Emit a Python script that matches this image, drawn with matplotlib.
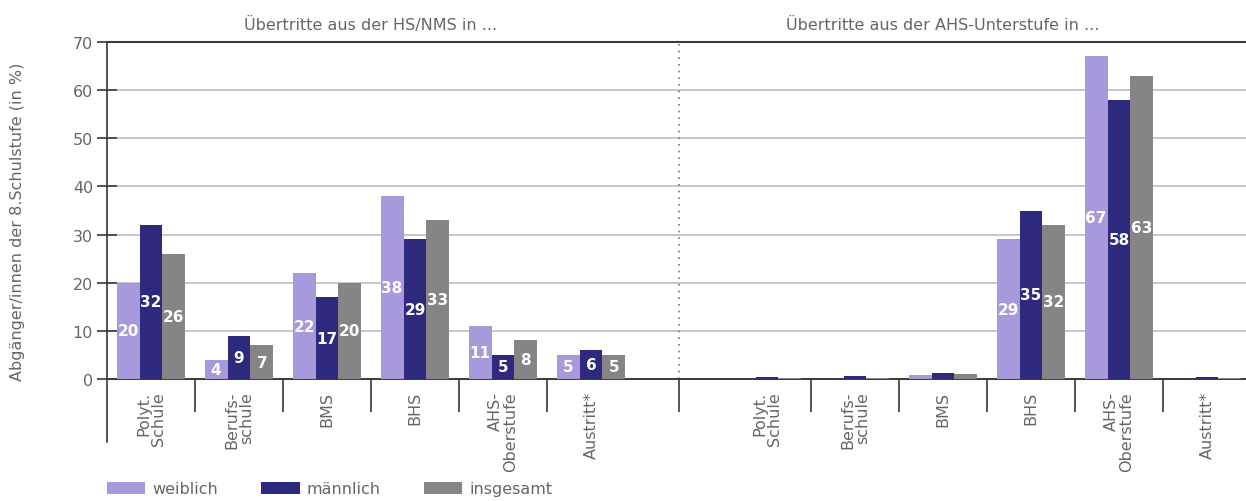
import numpy as np
import matplotlib
matplotlib.use("Agg")
import matplotlib.pyplot as plt
from matplotlib.patches import Patch

plt.rcParams["font.family"] = ["DejaVu Sans"]

# Categories of the two transfer groups
categories = ["Polyt.\nSchule", "Berufs-\nschule", "BMS", "BHS", "AHS-\nOberstufe", "Austritt*"]
group_titles = ["Übertritte aus der HS/NMS in ...", "Übertritte aus der AHS-Unterstufe in ..."]
series_names = ["weiblich", "männlich", "insgesamt"]

# Transfers from HS/NMS (percent)
hs_weiblich = [20, 4, 22, 38, 11, 5]
hs_maennlich = [32, 9, 17, 29, 5, 6]
hs_insgesamt = [26, 7, 20, 33, 8, 5]

# Transfers from AHS-Unterstufe (percent)
ahs_weiblich = [0.1, 0.1, 0.8, 29, 67, 0.1]
ahs_maennlich = [0.4, 0.6, 1.2, 35, 58, 0.5]
ahs_insgesamt = [0.2, 0.3, 1.0, 32, 63, 0.3]

y_ticks = [0, 10, 20, 30, 40, 50, 60, 70]
y_label = "Abgänger/innen der 8.Schulstufe (in %)"

colors = ["#a898dc", "#2d2a7e", "#858585"]
text_gray = "#666666"

W, H = 1246, 502
fig = plt.figure(figsize=(W / 100, H / 100), dpi=100)
ax_left, ax_bottom, ax_top = 107, 380, 43
ax = fig.add_axes([ax_left / W, (H - ax_bottom) / H, 1 - ax_left / W, (ax_bottom - ax_top) / H])

slot_px = 88.0
n_slots = (W - ax_left) / slot_px
ax.set_xlim(-0.5, -0.5 + n_slots)
ax.set_ylim(0, 70)

left_pos = np.arange(6)
right_pos = np.arange(6) + 7
bw = 0.26
offsets = [-bw, 0, bw]

groups = [
    (left_pos, [hs_weiblich, hs_maennlich, hs_insgesamt]),
    (right_pos, [ahs_weiblich, ahs_maennlich, ahs_insgesamt]),
]

for pos, series in groups:
    for off, vals, col in zip(offsets, series, colors):
        bars = ax.bar(pos + off, vals, width=bw, color=col, edgecolor="none", zorder=3)
        for b, v in zip(bars, vals):
            if v >= 2:
                ax.text(b.get_x() + b.get_width() / 2, v / 2, f"{v:g}",
                        ha="center", va="center", color="white",
                        fontsize=11, fontweight="bold", zorder=4)

# Gridlines and frame
ax.set_yticks(y_ticks)
ax.set_yticklabels([str(t) for t in y_ticks])
ax.grid(axis="y", color="#b8b8b8", linewidth=1.1, zorder=0)
ax.set_axisbelow(True)
ax.spines["right"].set_visible(False)
ax.spines["top"].set_color("#3a3a3a")
ax.spines["top"].set_linewidth(1.5)
ax.spines["bottom"].set_color("#3a3a3a")
ax.spines["bottom"].set_linewidth(1.4)
ax.spines["left"].set_color("#3a3a3a")
ax.spines["left"].set_linewidth(1.2)

ax.tick_params(axis="y", direction="inout", length=14, width=1.2, color="#3a3a3a",
               labelsize=11.5, labelcolor=text_gray, pad=3)

# Separator ticks below the baseline
sep_ticks = [0.5, 1.5, 2.5, 3.5, 4.5, 6, 7.5, 8.5, 9.5, 10.5, 11.5]
ax.set_xticks(sep_ticks)
ax.set_xticklabels([""] * len(sep_ticks))
ax.tick_params(axis="x", direction="out", length=24, width=1.2, color="#3a3a3a")

# Dotted divider between the two groups
ax.axvline(6, color="#777777", linestyle=(0, (1, 3)), linewidth=1.2, zorder=2)

# Extension of the y-axis below the baseline
xt = ax.get_xaxis_transform()
ax_h = ax_bottom - ax_top
ax.plot([-0.5, -0.5], [0, -63 / ax_h], transform=xt, color="#3a3a3a",
        linewidth=1.2, clip_on=False)

# Category labels
for pos in (left_pos, right_pos):
    for x, lab in zip(pos, categories):
        ax.text(x, -12 / ax_h, lab, transform=xt, rotation=90, ha="center", va="top",
                multialignment="right", fontsize=11.5, color=text_gray, linespacing=1.0)

# Group titles
ax.text(2.5, 1 + 18 / ax_h, group_titles[0], transform=xt, ha="center", va="center",
        fontsize=11.5, color=text_gray)
ax.text(9.0, 1 + 18 / ax_h, group_titles[1], transform=xt, ha="center", va="center",
        fontsize=11.5, color=text_gray)

fig.text(18 / W, 1 - 222 / H, y_label, rotation=90, ha="center", va="center",
         fontsize=11.5, color=text_gray)

handles = [Patch(facecolor=c, edgecolor="none") for c in colors]
fig.legend(handles, series_names, loc="center left", bbox_to_anchor=(107 / W, 12 / H),
           ncol=3, frameon=False, fontsize=11.5, handlelength=2.4, handleheight=0.8,
           handletextpad=0.45, columnspacing=2.7, borderpad=0, borderaxespad=0,
           labelcolor=text_gray)

fig.savefig("out.png", dpi=100)
